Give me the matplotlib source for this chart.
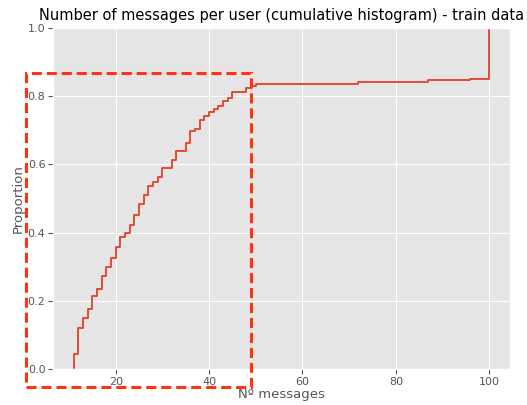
import matplotlib.pyplot as plt
from matplotlib.patches import Rectangle

plt.style.use('ggplot')

# ECDF: message count -> cumulative proportion
n_messages = [11, 12, 13, 14, 15, 16, 17, 18, 19, 20,
              21, 22, 23, 24, 25, 26, 27, 28, 29, 30,
              32, 33, 35, 36, 37, 38, 39, 40, 41, 42,
              43, 44, 45, 48, 49, 50, 72, 87, 96, 100]
proportion = [0.044, 0.121, 0.149, 0.175, 0.214, 0.236, 0.272, 0.300, 0.326, 0.358,
              0.387, 0.398, 0.423, 0.452, 0.484, 0.510, 0.538, 0.548, 0.564, 0.590,
              0.613, 0.640, 0.662, 0.698, 0.704, 0.731, 0.742, 0.753, 0.763, 0.770,
              0.785, 0.796, 0.813, 0.824, 0.830, 0.836, 0.842, 0.848, 0.851, 1.0]

xs = [n_messages[0]] + n_messages
ys = [0.0] + proportion

fig = plt.figure(figsize=(5.27, 4.05), dpi=100)
ax = fig.add_axes([0.1006, 0.0889, 0.867, 0.842])
ax.plot(xs, ys, drawstyle='steps-post', color='#E24A33', lw=1.4)
ax.set_xlim(6.55, 104.45)
ax.set_ylim(0, 1)
ax.set_xticks([20, 40, 60, 80, 100])
ax.set_yticks([0.0, 0.2, 0.4, 0.6, 0.8, 1.0])
ax.tick_params(labelsize=8, pad=2)
ax.set_title('Number of messages per user (cumulative histogram) - train data', fontsize=10.5)
ax.set_xlabel('Nº messages', fontsize=9.5, labelpad=1)
ax.set_ylabel('Proportion', fontsize=9.5, labelpad=2)

# highlight box drawn over the figure
rect = Rectangle((26 / 527, 1 - 387 / 405), 225 / 527, 314 / 405,
                 transform=fig.transFigure, fill=False, edgecolor='#ff3311',
                 lw=2.2, ls=(0, (3.3, 1.6)), clip_on=False)
fig.patches.append(rect)

fig.savefig('out.png', dpi=100)
